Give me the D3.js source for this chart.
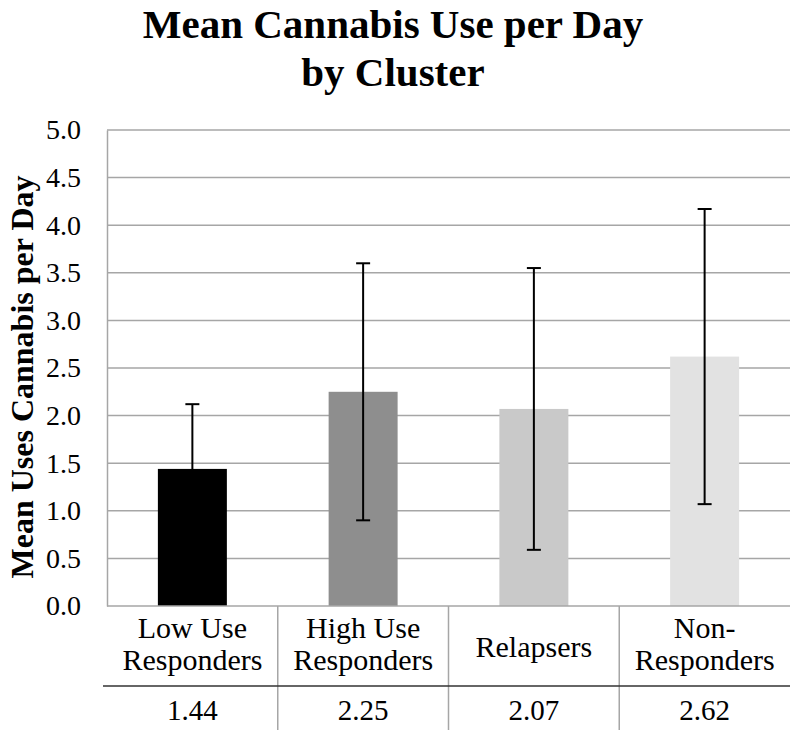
<!DOCTYPE html>
<html><head><meta charset="utf-8">
<script src="https://cdn.jsdelivr.net/npm/d3@7"></script>
<style>body{margin:0;background:#fff}svg{display:block}</style>
</head><body>
<svg id="c" width="800" height="741"></svg>
<script>
const categories = [["Low Use","Responders"],["High Use","Responders"],["Relapsers"],["Non-","Responders"]];
const means = [1.44, 2.25, 2.07, 2.62];
const errors = [0.68, 1.35, 1.48, 1.55];
const colors = ["#000000","#8e8e8e","#c9c9c9","#e2e2e2"];
const yTicks = [0,0.5,1,1.5,2,2.5,3,3.5,4,4.5,5];

const FONT = "Liberation Serif";
const svg = d3.select("#c").attr("font-family", FONT);
const L = 107, R = 790, T = 130, B = 606;
const x = d3.scaleBand().domain(d3.range(4)).range([L, R]).paddingInner(0).paddingOuter(0);
const y = d3.scaleLinear().domain([0,5]).range([B, T]);
const barW = x.bandwidth()*0.404;

// title
svg.append("text").attr("x",393).attr("y",38).attr("text-anchor","middle").attr("font-family",FONT)
  .attr("font-weight","bold").attr("font-size",41).text("Mean Cannabis Use per Day");
svg.append("text").attr("x",393).attr("y",86).attr("text-anchor","middle").attr("font-family",FONT)
  .attr("font-weight","bold").attr("font-size",41).text("by Cluster");

// gridlines
svg.append("g").selectAll("line").data(yTicks.filter(d=>d>0)).join("line")
  .attr("x1",L).attr("x2",R).attr("y1",d=>y(d)).attr("y2",d=>y(d))
  .attr("stroke","#a6a6a6").attr("stroke-width",1.5);

// y axis
const ya = svg.append("g").attr("transform",`translate(${L},0)`)
  .call(d3.axisLeft(y).tickValues(yTicks).tickFormat(d3.format(".1f")).tickSize(0).tickPadding(26));
ya.attr("font-family",FONT).attr("font-size",28);
ya.select(".domain").attr("stroke","#a6a6a6").attr("stroke-width",1.5);
ya.selectAll("text").attr("font-family",FONT).attr("font-size",28).attr("fill","#000");

svg.append("text").attr("transform","translate(33,377) rotate(-90)").attr("text-anchor","middle").attr("font-family",FONT)
  .attr("font-weight","bold").attr("font-size",32).text("Mean Uses Cannabis per Day");

// bars
svg.append("g").selectAll("rect").data(means).join("rect")
  .attr("x",(d,i)=>x(i)+x.bandwidth()/2-barW/2).attr("width",barW)
  .attr("y",d=>y(d)).attr("height",d=>B-y(d)).attr("fill",(d,i)=>colors[i]);

// error bars
const eb = svg.append("g").attr("stroke","#000").attr("stroke-width",2);
means.forEach((m,i)=>{
  const cx = x(i)+x.bandwidth()/2;
  eb.append("line").attr("x1",cx).attr("x2",cx).attr("y1",y(m+errors[i])).attr("y2",y(m-errors[i]));
  [m+errors[i], m-errors[i]].forEach(v=>eb.append("line").attr("x1",cx-7).attr("x2",cx+7).attr("y1",y(v)).attr("y2",y(v)));
});

// x axis baseline
svg.append("line").attr("x1",L).attr("x2",R).attr("y1",B).attr("y2",B).attr("stroke","#a6a6a6").attr("stroke-width",1.5);

// table dividers
svg.append("g").selectAll("line").data(d3.range(1,4)).join("line")
  .attr("x1",i=>x(i)).attr("x2",i=>x(i)).attr("y1",B).attr("y2",730)
  .attr("stroke","#a6a6a6").attr("stroke-width",1.5);
svg.append("line").attr("x1",103).attr("x2",R).attr("y1",686).attr("y2",686).attr("stroke","#333").attr("stroke-width",1.5);

// category labels
categories.forEach((lines,i)=>{
  const cx = x(i)+x.bandwidth()/2;
  const t = svg.append("text").attr("text-anchor","middle").attr("font-family",FONT).attr("font-size",30);
  if(lines.length===1){
    t.append("tspan").attr("x",cx).attr("y",657).text(lines[0]);
  } else {
    t.append("tspan").attr("x",cx).attr("y",638).text(lines[0]);
    t.append("tspan").attr("x",cx).attr("y",670).text(lines[1]);
  }
  svg.append("text").attr("x",cx).attr("y",720).attr("text-anchor","middle").attr("font-family",FONT)
    .attr("font-size",29).text(means[i].toFixed(2));
});
</script>
</body></html>
